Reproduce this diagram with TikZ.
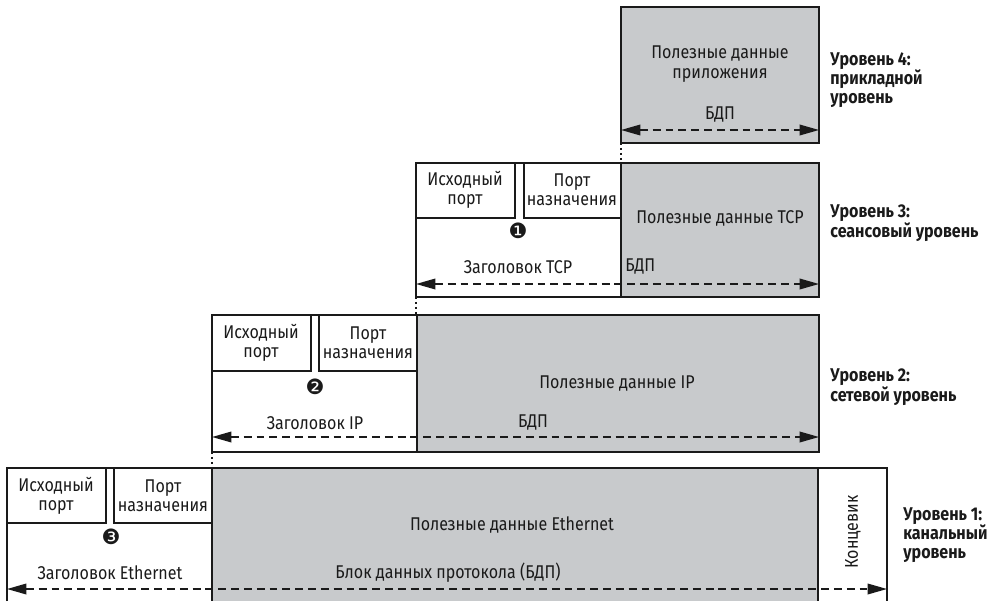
\documentclass[tikz,border=0pt]{standalone}
\usepackage{fontspec}
\setmainfont{Fira Sans}[FakeStretch=0.87]
\newfontfamily\numfont{DejaVu Sans}
\usepackage{xcolor}
\usepackage{tikz}
\usetikzlibrary{arrows.meta}
\definecolor{payload}{HTML}{C8CACC}
\definecolor{ink}{HTML}{1A1A1A}
\tikzset{
  frame/.style={draw=ink, line width=1.1pt},
  fillbox/.style={fill=payload},
  pdu/.style={draw=ink, line width=1pt, dash pattern=on 4.5pt off 2.8pt,
    {Triangle[length=11pt,width=6pt]}-{Triangle[length=11pt,width=6pt]}},
  link/.style={draw=ink, line width=1.2pt, dash pattern=on 1.2pt off 1.6pt},
  txt/.style={text=ink, font=\fontsize{10.5}{11}\selectfont, align=center, inner sep=0pt},
  num/.style={text=ink, font=\numfont\fontsize{12}{12}\selectfont, inner sep=0pt},
  lvl/.style={text=ink, font=\bfseries\fontsize{10.5}{11}\selectfont, align=left, anchor=west, inner sep=0pt},
}
\begin{document}
\begin{tikzpicture}[x=0.02cm, y=-0.02cm]
  \useasboundingbox (0,0) rectangle (999,601);

  % level 4: application
  \coordinate (appNW) at (621,7);
  \coordinate (appSE) at (819,143);
  \fill[fillbox] (appNW) rectangle (appSE);
  \draw[frame] (appNW) rectangle (appSE);
  \node[txt] (appdata) at (720,64) {Полезные данные\\приложения};
  \node[txt] (apppdu) at (720,115) {БДП};
  \coordinate (appL) at (621,130);
  \coordinate (appR) at (819,130);
  \draw[pdu] (appL) -- (appR);
  \node[lvl] (lvl4) at (830,80) {Уровень 4:\\прикладной\\уровень};

  % level 3: TCP
  \coordinate (tcpNW) at (416,163);
  \coordinate (tcpSE) at (819,297);
  \coordinate (tcpDiv) at (621,163);
  \fill[fillbox] (tcpDiv) rectangle (tcpSE);
  \draw[frame] (tcpNW) rectangle (tcpSE);
  \draw[frame] (tcpDiv) -- (621,297);
  \draw[frame] (416,218) -| (515,163);
  \draw[frame] (524,163) |- (621,218);
  \node[txt] (tcpsrc) at (465,190) {Исходный\\порт};
  \node[txt] (tcpdst) at (572,190) {Порт\\назначения};
  \node[num] (n1) at (518,231) {❶};
  \node[txt] (tcphdr) at (518,267) {Заголовок TCP};
  \node[txt, anchor=west] (tcppdu) at (625,267) {БДП};
  \node[txt] (tcpdata) at (720,218) {Полезные данные TCP};
  \coordinate (tcpL) at (416,284);
  \coordinate (tcpR) at (819,284);
  \draw[pdu] (tcpL) -- (tcpR);
  \node[lvl] (lvl3) at (830,223) {Уровень 3:\\сеансовый уровень};
  \draw[link] (appNW |- appSE) -- (tcpDiv);

  % level 2: IP
  \coordinate (ipNW) at (212,315);
  \coordinate (ipSE) at (819,452);
  \coordinate (ipDiv) at (417,315);
  \fill[fillbox] (ipDiv) rectangle (ipSE);
  \draw[frame] (ipNW) rectangle (ipSE);
  \draw[frame] (ipDiv) -- (417,452);
  \draw[frame] (212,371) -| (311,315);
  \draw[frame] (319,315) |- (417,371);
  \node[txt] (ipsrc) at (261,343) {Исходный\\порт};
  \node[txt] (ipdst) at (368,343) {Порт\\назначения};
  \node[num] (n2) at (315,387) {❷};
  \node[txt] (iphdr) at (315,423) {Заголовок IP};
  \node[txt] (ippdu) at (533,423) {БДП};
  \node[txt] (ipdata) at (617,384) {Полезные данные IP};
  \coordinate (ipL) at (212,437);
  \coordinate (ipR) at (819,437);
  \draw[pdu] (ipL) -- (ipR);
  \node[lvl] (lvl2) at (830,387) {Уровень 2:\\сетевой уровень};
  \draw[link] (tcpNW |- tcpSE) -- (416,315);

  % level 1: Ethernet
  \coordinate (ethNW) at (7,468);
  \coordinate (ethDiv) at (212,468);
  \coordinate (ethTr) at (818,468);
  \coordinate (ethNE) at (887,468);
  \fill[fillbox] (ethDiv) rectangle (818,601);
  \draw[frame] (7,601) -- (ethNW) -- (ethNE) -- (887,601);
  \draw[frame] (ethDiv) -- (212,601);
  \draw[frame] (ethTr) -- (818,601);
  \draw[frame] (7,523) -| (106,468);
  \draw[frame] (114,468) |- (212,523);
  \node[txt] (ethsrc) at (56,496) {Исходный\\порт};
  \node[txt] (ethdst) at (163,496) {Порт\\назначения};
  \node[num] (n3) at (111,537) {❸};
  \node[txt] (ethhdr) at (110,573) {Заголовок Ethernet};
  \node[txt] (ethpdu) at (448,573) {Блок данных протокола (БДП)};
  \node[txt] (ethdata) at (512,525) {Полезные данные Ethernet};
  \node[txt, rotate=90] (trailer) at (853,532) {Концевик};
  \coordinate (ethL) at (7,589);
  \coordinate (ethR) at (887,589);
  \draw[pdu] (ethL) -- (ethR);
  \node[lvl] (lvl1) at (903,535) {Уровень 1:\\канальный\\уровень};
  \draw[link] (ipNW |- ipSE) -- (ethDiv);
\end{tikzpicture}
\end{document}
